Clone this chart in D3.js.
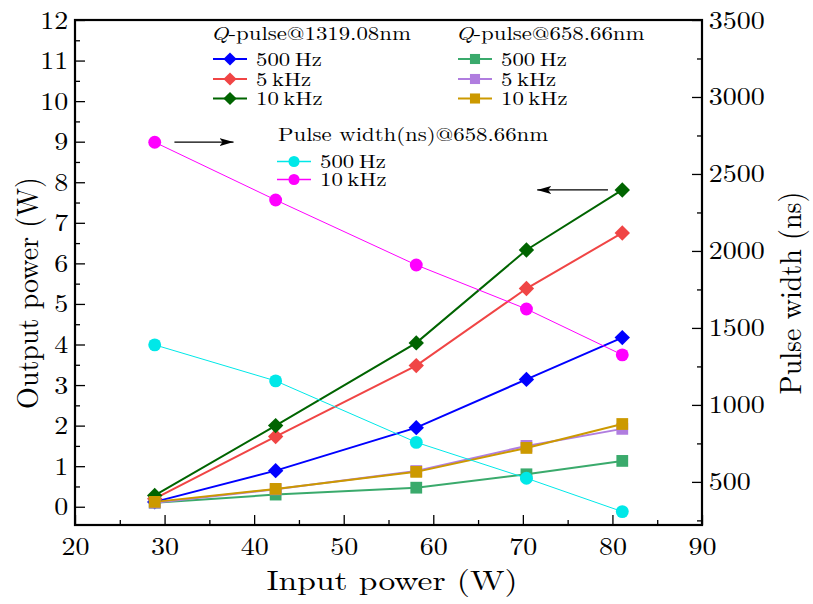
<!DOCTYPE html>
<html><head><meta charset="utf-8">
<script src="https://cdn.jsdelivr.net/npm/d3@7"></script>
<style>body{margin:0;background:#fff}svg{display:block}</style>
</head><body>
<script>
const inputPower = [28.9, 42.4, 58.1, 70.4, 81.1];
const q1319_500Hz = [0.12, 0.89, 1.95, 3.14, 4.17];
const q1319_5kHz = [0.2, 1.73, 3.48, 5.38, 6.75];
const q1319_10kHz = [0.28, 2.0, 4.04, 6.33, 7.81];
const q658_500Hz = [0.1, 0.3, 0.47, 0.8, 1.13];
const q658_5kHz = [0.1, 0.43, 0.88, 1.5, 1.92];
const q658_10kHz = [0.12, 0.44, 0.86, 1.45, 2.04];
const pw658_500Hz = [1390, 1156, 757, 524, 307];
const pw658_10kHz = [2706, 2331, 1909, 1623, 1325];
const xTicks = [20, 30, 40, 50, 60, 70, 80, 90];
const yLeftTicks = [0,1,2,3,4,5,6,7,8,9,10,11,12];
const yRightTicks = [500,1000,1500,2000,2500,3000,3500];

const W = 813, H = 604, SX = 1.2, FONT = "'Latin Modern Roman', 'CMU Serif', 'Liberation Serif', serif";
const svg = d3.select("body").append("svg").attr("width", W).attr("height", H);
const x = d3.scaleLinear([20, 90], [75, 702]);
const yL = d3.scaleLinear([-0.45, 12], [525, 20]);
const yR = d3.scaleLinear([220, 3500], [525, 20]);

function txt(g, px, py, s, size, anchor, rot, sx) {
  return g.append("text")
    .attr("transform", `translate(${px},${py}) scale(${sx || SX},1)` + (rot ? ` rotate(${rot})` : ""))
    .style("font-family", FONT).style("font-size", size + "px")
    .attr("text-anchor", anchor || "start").attr("fill", "#000").text(s);
}

function styleAxis(g) {
  g.attr("font-family", null).attr("font-size", null);
  g.selectAll(".domain").remove();
  g.selectAll("line").attr("stroke", "#000").attr("stroke-width", 1.3);
  g.selectAll("text").style("font-family", FONT).style("font-size", "25px").attr("fill", "#000");
}
const gxMinor = svg.append("g").attr("transform", "translate(0,525)")
  .call(d3.axisBottom(x).tickValues(d3.range(25, 90, 10)).tickSize(-5).tickFormat(""));
styleAxis(gxMinor);
const gx = svg.append("g").attr("transform", "translate(0,525)")
  .call(d3.axisBottom(x).tickValues(xTicks).tickSize(-10).tickPadding(12).tickFormat(d3.format("d")));
styleAxis(gx);
gx.selectAll("text").attr("transform", `scale(1.12,1)`);

const gyMinor = svg.append("g").attr("transform", "translate(75,0)")
  .call(d3.axisLeft(yL).tickValues(d3.range(0.5, 12, 1)).tickSize(-5).tickFormat(""));
styleAxis(gyMinor);
const gy = svg.append("g").attr("transform", "translate(75,0)")
  .call(d3.axisLeft(yL).tickValues(yLeftTicks).tickSize(-10).tickPadding(6).tickFormat(d3.format("d")));
styleAxis(gy);
gy.selectAll("text").attr("transform", `scale(1.12,1)`);

const grMinor = svg.append("g").attr("transform", "translate(702,0)")
  .call(d3.axisRight(yR).tickValues(d3.range(250, 3500, 500)).tickSize(-5).tickFormat(""));
styleAxis(grMinor);
const gr = svg.append("g").attr("transform", "translate(702,0)")
  .call(d3.axisRight(yR).tickValues(yRightTicks).tickSize(-10).tickPadding(6).tickFormat(d3.format("d")));
styleAxis(gr);
gr.selectAll("text").attr("transform", `scale(1.12,1)`);

svg.append("rect").attr("x", 75).attr("y", 20).attr("width", 627).attr("height", 505)
  .attr("fill", "none").attr("stroke", "#000").attr("stroke-width", 2.2);

txt(svg, 392, 590, "Input power (W)", 28, "middle");
txt(svg, 38, 293, "Output power (W)", 28, "middle", -90, 1.1);
txt(svg, 801, 293, "Pulse width (ns)", 28, "middle", -90, 1.1);

const series = [
  {v: q1319_500Hz, c: "#0000ff", shape: "diamond", ax: yL, lw: 2},
  {v: q1319_5kHz, c: "#f04545", shape: "diamond", ax: yL, lw: 2},
  {v: q1319_10kHz, c: "#006400", shape: "diamond", ax: yL, lw: 2},
  {v: q658_500Hz, c: "#3aaa6c", shape: "square", ax: yL, lw: 2},
  {v: q658_5kHz, c: "#b07ddf", shape: "square", ax: yL, lw: 2},
  {v: q658_10kHz, c: "#cc9900", shape: "square", ax: yL, lw: 2},
  {v: pw658_500Hz, c: "#00e8e8", shape: "circle", ax: yR, lw: 1},
  {v: pw658_10kHz, c: "#ff00ff", shape: "circle", ax: yR, lw: 1}
];
function marker(g, shape, c, px, py, s) {
  if (shape === "diamond") {
    const h = s * 0.55;
    g.append("path").attr("d", `M${px},${py-h}L${px+h},${py}L${px},${py+h}L${px-h},${py}Z`).attr("fill", c);
  } else if (shape === "square") {
    const h = s * 0.42;
    g.append("rect").attr("x", px-h).attr("y", py-h).attr("width", 2*h).attr("height", 2*h).attr("fill", c);
  } else {
    g.append("circle").attr("cx", px).attr("cy", py).attr("r", s * 0.46).attr("fill", c);
  }
}
const line = d3.line();
series.forEach(s => {
  const pts = inputPower.map((xv, i) => [x(xv), s.ax(s.v[i])]);
  const g = svg.append("g");
  g.append("path").attr("d", line(pts)).attr("fill", "none").attr("stroke", s.c).attr("stroke-width", s.lw);
  pts.forEach(p => marker(g, s.shape, s.c, p[0], p[1], 14));
});

svg.append("defs").append("marker").attr("id", "ah").attr("viewBox", "0 0 14 8")
  .attr("refX", 14).attr("refY", 4).attr("markerWidth", 14).attr("markerHeight", 8)
  .attr("markerUnits", "userSpaceOnUse").attr("orient", "auto")
  .append("path").attr("d", "M0,0L14,4L0,8L3,4Z").attr("fill", "#000");
svg.append("line").attr("x1", x(31.1)).attr("y1", yL(8.99)).attr("x2", x(37.7)).attr("y2", yL(8.99))
  .attr("stroke", "#000").attr("stroke-width", 1.3).attr("marker-end", "url(#ah)");
svg.append("line").attr("x1", x(79.5)).attr("y1", yL(7.81)).attr("x2", x(71.6)).attr("y2", yL(7.81))
  .attr("stroke", "#000").attr("stroke-width", 1.3).attr("marker-end", "url(#ah)");

const lg = svg.append("g");
function header(px, py, rest, italicQ) {
  const t = txt(lg, px, py, null, 19, "start");
  if (italicQ) { t.append("tspan").attr("font-style", "italic").text("Q"); }
  t.append("tspan").text(rest);
}
header(211, 40, "-pulse@1319.08nm", true);
header(456, 40, "-pulse@658.66nm", true);
header(278, 141, "Pulse width(ns)@658.66nm", false);
const legendRows = [
  {x0: 213, y: 59, s: series[0], label: "500\u2009Hz"},
  {x0: 213, y: 79, s: series[1], label: "5\u2009kHz"},
  {x0: 213, y: 98.5, s: series[2], label: "10\u2009kHz"},
  {x0: 458, y: 59, s: series[3], label: "500\u2009Hz"},
  {x0: 458, y: 79, s: series[4], label: "5\u2009kHz"},
  {x0: 458, y: 98.5, s: series[5], label: "10\u2009kHz"},
  {x0: 277, y: 161.5, s: series[6], label: "500\u2009Hz"},
  {x0: 277, y: 179.5, s: series[7], label: "10\u2009kHz"}
];
legendRows.forEach(r => {
  lg.append("line").attr("x1", r.x0).attr("x2", r.x0 + 34).attr("y1", r.y).attr("y2", r.y)
    .attr("stroke", r.s.c).attr("stroke-width", r.s.lw === 1 ? 1.3 : 2);
  marker(lg, r.s.shape, r.s.c, r.x0 + 17, r.y, 12);
  txt(lg, r.x0 + 43, r.y + 6.5, r.label, 19, "start");
});
</script>
</body></html>
